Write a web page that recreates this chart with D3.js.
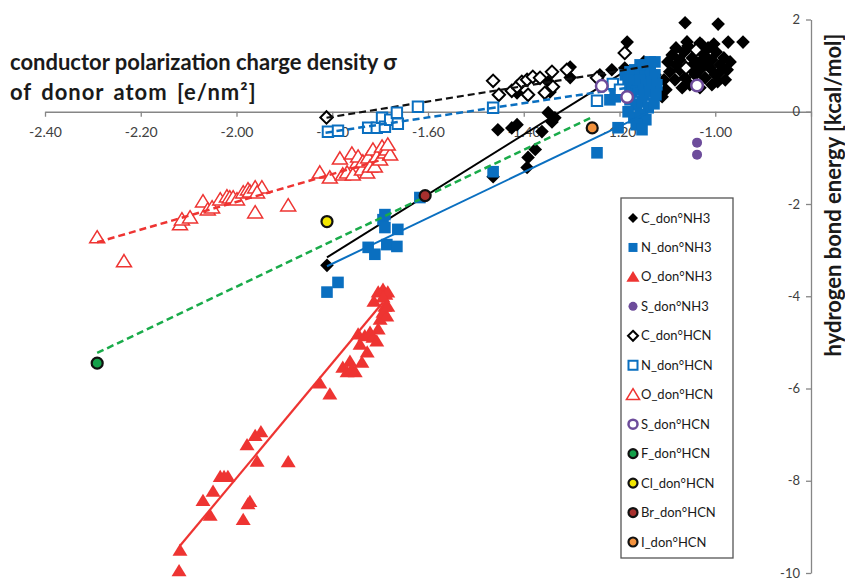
<!DOCTYPE html>
<html><head><meta charset="utf-8">
<script src="https://cdn.jsdelivr.net/npm/d3@7"></script>
<style>body{margin:0;background:#fff}svg{display:block}</style>
</head><body>
<script>
// ---------- data ----------
const xTicks = [-2.4,-2.2,-2.0,-1.8,-1.6,-1.4,-1.2,-1.0,-0.8];
const xTickLabels = ["-2.40","-2.20","-2.00","-1.80","-1.60","-1.40","-1.20","-1.00",""];
const yTicks = [2,0,-2,-4,-6,-8,-10];
const yTickLabels = ["2","0","-2","-4","-6","-8","-10"];
const legendLabels = ["C_don°NH3","N_don°NH3","O_don°NH3","S_don°NH3","C_don°HCN","N_don°HCN","O_don°HCN","S_don°HCN","F_don°HCN","Cl_don°HCN","Br_don°HCN","I_don°HCN"];

const C_NH3 = [[-1.811,-3.33],[-1.464,-1.41],[-1.454,-0.39],[-1.425,-0.35],[-1.414,-0.28],[-1.393,-1.21],[-1.391,-0.99],[-1.376,-0.82],[-1.362,-0.43],[-1.349,-0.02],[-1.341,-0.22],[-1.335,-0.13],[-1.414,0.41],[-1.345,0.43],[-1.349,0.65],[-1.303,0.74],[-1.303,0.97],[-1.241,0.80],[-1.216,0.91],[-1.189,0.95],[-1.184,1.51],
 [-1.099,1.081],[-1.090,1.232],[-1.082,1.384],[-1.074,1.124],[-1.065,1.297],[-1.057,1.427],[-1.048,1.168],[-1.040,1.341],[-1.032,1.081],[-1.023,1.232],[-1.015,1.384],[-1.007,1.124],[-0.998,1.297],[-0.990,1.016],[-0.982,1.168],
 [-1.095,0.865],[-1.084,0.692],[-1.074,0.908],[-1.063,0.735],[-1.053,0.951],[-1.042,0.800],[-1.032,0.908],[-1.021,0.735],[-1.011,0.951],[-1.000,0.800],[-0.990,0.865],[-0.979,0.692],[-1.069,0.519],[-1.053,0.584],[-1.032,0.519],[-1.007,0.584],[-0.995,0.649],[-1.082,1.016],[-1.044,1.038],[-1.019,1.038],[-1.028,1.449],[-1.003,1.470],[-1.059,1.514],[-1.032,1.492],[-0.975,0.908],[-0.969,1.081],[-1.107,0.692],[-1.119,0.649],[-1.140,0.908],[-1.126,0.800],[-1.157,0.951],[-1.165,0.843],[-1.149,1.081],[-1.111,0.324],[-1.103,0.476],
 [-1.063,1.93],[-0.994,1.90],[-0.973,1.51],[-0.942,1.51]];
const N_NH3 = [[-1.811,-3.91],[-1.788,-3.70],[-1.725,-2.94],[-1.711,-3.09],[-1.694,-2.34],[-1.690,-2.51],[-1.686,-2.88],[-1.663,-2.55],[-1.665,-2.92],[-1.690,-2.23],[-1.617,-1.86],[-1.464,-1.30],[-1.247,-0.89],
 [-1.188,0.800],[-1.178,0.865],[-1.168,0.908],[-1.157,0.865],[-1.147,0.800],[-1.136,0.865],[-1.126,0.800],[-1.182,0.692],[-1.170,0.649],[-1.157,0.692],[-1.145,0.584],[-1.132,0.649],[-1.122,0.584],[-1.188,0.476],[-1.174,0.432],[-1.161,0.476],[-1.149,0.368],[-1.136,0.432],[-1.124,0.368],[-1.178,0.259],[-1.165,0.151],[-1.153,0.216],[-1.140,0.086],[-1.128,0.173],[-1.182,0.0],[-1.170,-0.130],[-1.157,-0.065],[-1.145,-0.173],[-1.165,-0.281],[-1.153,-0.389],[-1.220,0.259],[-1.209,0.324],[-1.203,-0.346],[-1.157,1.016],[-1.136,1.081],[-1.126,1.081]];
const O_NH3 = [[-2.118,-9.51],[-2.120,-9.95],[-2.070,-8.43],[-2.055,-8.75],[-2.049,-8.23],[-2.034,-7.91],[-2.026,-7.91],[-2.018,-7.91],[-1.986,-8.84],[-1.976,-8.50],[-1.972,-8.45],[-1.978,-7.22],[-1.961,-7.02],[-1.949,-6.94],[-1.957,-7.58],[-1.892,-7.59],[-1.826,-5.88],[-1.805,-6.12],[-1.778,-5.54],[-1.769,-5.64],[-1.763,-5.41],[-1.759,-5.58],[-1.752,-5.64],[-1.746,-4.82],[-1.742,-5.04],[-1.738,-5.43],[-1.732,-4.86],[-1.727,-5.21],[-1.721,-4.78],[-1.715,-4.89],[-1.707,-4.97],[-1.704,-4.71],[-1.700,-4.50],[-1.694,-4.35],[-1.690,-4.22],[-1.686,-4.43],[-1.694,-3.85],[-1.688,-3.96],[-1.684,-4.22],[-1.713,-4.11],[-1.684,-3.91],[-1.704,-3.91],[-1.694,-4.02]];
const S_NH3 = [[-1.038,-0.67],[-1.038,-0.93]];
const C_HCN = [[-1.812,-0.123],[-1.464,0.670],[-1.452,0.368],[-1.425,0.454],[-1.414,0.541],[-1.404,0.649],[-1.393,0.692],[-1.391,0.368],[-1.381,0.757],[-1.366,0.735],[-1.356,0.411],[-1.341,0.865],[-1.339,0.541],[-1.310,0.908],[-1.247,0.735],[-1.189,1.276],[-1.040,1.34],[-1.061,0.95]];
const N_HCN = [[-1.809,-0.432],[-1.788,-0.411],[-1.725,-0.346],[-1.707,-0.346],[-1.696,-0.130],[-1.690,-0.324],[-1.679,-0.173],[-1.665,-0.022],[-1.663,-0.259],[-1.621,0.108],[-1.464,0.086],[-1.247,0.238],[-1.214,0.605],[-1.199,0.476]];
const O_HCN = [[-2.291,-2.724],[-2.235,-3.243],[-2.118,-2.443],[-2.114,-2.335],[-2.097,-2.292],[-2.070,-1.946],[-2.060,-2.119],[-2.051,-2.076],[-2.034,-1.903],[-2.020,-1.838],[-2.014,-1.859],[-2.007,-1.859],[-1.999,-1.903],[-1.986,-1.751],[-1.976,-1.686],[-1.972,-1.730],[-1.961,-1.643],[-1.947,-1.643],[-1.957,-1.751],[-1.961,-2.184],[-1.892,-2.032],[-1.826,-1.319],[-1.805,-1.427],[-1.784,-1.016],[-1.778,-1.362],[-1.769,-1.319],[-1.759,-0.908],[-1.757,-1.362],[-1.748,-1.103],[-1.746,-0.973],[-1.738,-1.254],[-1.736,-1.081],[-1.727,-1.319],[-1.725,-0.995],[-1.721,-1.189],[-1.715,-0.822],[-1.711,-1.189],[-1.707,-0.973],[-1.700,-1.038],[-1.696,-0.757],[-1.690,-0.887],[-1.686,-0.822],[-1.679,-0.930],[-1.684,-0.714]];
const S_HCN = [[-1.237,0.56],[-1.184,0.32],[-1.038,0.57]];
const F_HCN = [[-2.291,-5.45]];
const Cl_HCN = [[-1.811,-2.38]];
const Br_HCN = [[-1.606,-1.82]];
const I_HCN = [[-1.257,-0.35]];

// trend lines (end points)
const fitC_NH3 = [[-1.811,-3.157],[-1.157,1.08]];
const fitN_NH3 = [[-1.811,-3.35],[-1.140,-0.02]];
const fitO_NH3 = [[-2.118,-9.41],[-1.694,-4.13]];
const fitC_HCN = [[-1.812,-0.13],[-1.136,0.995]];
const fitN_HCN = [[-1.814,-0.454],[-1.157,0.56]];
const fitO_HCN = [[-2.291,-2.83],[-1.690,-1.02]];
const fitHal = [[-2.291,-5.23],[-1.255,-0.108]];

// ---------- drawing ----------
const W=845,H=581;
const svg=d3.select("body").append("svg").attr("width",W).attr("height",H);
const x=d3.scaleLinear().domain([-2.4,-0.8]).range([45,811]);
const y=d3.scaleLinear().domain([-10,2]).range([573,19.5]);
const FONT="Lato, 'Open Sans', sans-serif";

const diamond={draw(c,r){c.moveTo(0,-r);c.lineTo(r,0);c.lineTo(0,r);c.lineTo(-r,0);c.closePath();}};
const square={draw(c,r){c.rect(-r,-r,2*r,2*r);}};
const triangle={draw(c,r){c.moveTo(0,-r);c.lineTo(r*1.1,r*0.8);c.lineTo(-r*1.1,r*0.8);c.closePath();}};
const circle={draw(c,r){c.moveTo(r,0);c.arc(0,0,r,0,2*Math.PI);}};

const BLACK="#000", BLUE="#0a6fc0", RED="#ee3432", PURPLE="#6d4c9b", GREEN="#14a04a", YELLOW="#f2e600", BROWN="#a8302e", ORANGE="#f3923e";

const series=[
 {data:C_NH3,sym:diamond,r:6.8,fill:BLACK,stroke:"none",sw:0,lr:5},
 {data:N_NH3,sym:square,r:5.8,fill:BLUE,stroke:"none",sw:0,lr:4.5},
 {data:O_NH3,sym:triangle,r:6.8,fill:RED,stroke:"none",sw:0,lr:6},
 {data:S_NH3,sym:circle,r:5,fill:PURPLE,stroke:"none",sw:0,lr:4.5},
 {data:C_HCN,sym:diamond,r:6.2,fill:"#fff",stroke:BLACK,sw:2,lr:5},
 {data:N_HCN,sym:square,r:5.2,fill:"#fff",stroke:BLUE,sw:2,lr:4.5},
 {data:O_HCN,sym:triangle,r:6.8,fill:"#fff",stroke:RED,sw:1.5,lr:6},
 {data:S_HCN,sym:circle,r:5.8,fill:"#fff",stroke:PURPLE,sw:2.5,lr:4.5},
 {data:F_HCN,sym:circle,r:5.5,fill:GREEN,stroke:"#111",sw:2.2,lr:4.5},
 {data:Cl_HCN,sym:circle,r:5.5,fill:YELLOW,stroke:"#111",sw:2.2,lr:4.5},
 {data:Br_HCN,sym:circle,r:5.5,fill:BROWN,stroke:"#111",sw:2.2,lr:4.5},
 {data:I_HCN,sym:circle,r:5.5,fill:ORANGE,stroke:"#111",sw:2.2,lr:4.5}
];
const fits=[
 {data:fitC_NH3,color:BLACK,dash:null,w:2,after:0},
 {data:fitN_NH3,color:BLUE,dash:null,w:2,after:1},
 {data:fitO_NH3,color:RED,dash:null,w:2.2,after:2},
 {data:fitC_HCN,color:"#111",dash:"7,4",w:2.2,after:4},
 {data:fitN_HCN,color:BLUE,dash:"7,4",w:2.5,after:5},
 {data:fitO_HCN,color:RED,dash:"7,4",w:2.5,after:6},
 {data:fitHal,color:"#1aab4a",dash:"7,4",w:2.5,after:8}
];

// axes
const AX="#868686", TXT="#404040";
const gx=svg.append("g").attr("transform",`translate(0,${y(0)})`)
 .call(d3.axisBottom(x).tickValues(xTicks).tickFormat((d,i)=>xTickLabels[i]).tickSize(5).tickSizeOuter(0).tickPadding(10));
gx.select(".domain").attr("stroke",AX).attr("stroke-width",1.3);
gx.selectAll(".tick line").attr("stroke",AX).attr("stroke-width",1.3);
gx.selectAll(".tick text").attr("fill",TXT).style("font-family",FONT).style("font-size","14px");

const gy=svg.append("g").attr("transform",`translate(${x(-0.8)},0)`)
 .call(d3.axisLeft(y).tickValues(yTicks).tickFormat((d,i)=>yTickLabels[i]).tickSize(5).tickSizeOuter(0).tickPadding(6));
gy.select(".domain").attr("stroke",AX).attr("stroke-width",1.3);
gy.selectAll(".tick line").attr("stroke",AX).attr("stroke-width",1.3);
gy.selectAll(".tick text").attr("fill",TXT).style("font-family",FONT).style("font-size","13px");

// series + trend lines
const line=d3.line().x(d=>x(d[0])).y(d=>y(d[1]));
const plot=svg.append("g");
series.forEach((s,i)=>{
  const sym=d3.symbol().type(s.sym).size(s.r);
  plot.append("g").selectAll("path").data(s.data).join("path")
   .attr("transform",d=>`translate(${x(d[0])},${y(d[1])})`)
   .attr("d",sym).attr("fill",s.fill).attr("stroke",s.stroke).attr("stroke-width",s.sw);
  fits.filter(f=>f.after===i).forEach(f=>{
    plot.append("path").datum(f.data).attr("d",line).attr("fill","none")
     .attr("stroke",f.color).attr("stroke-width",f.w).attr("stroke-dasharray",f.dash);
  });
});

// titles
const t=svg.append("g").style("font-family",FONT).style("font-weight","bold").attr("fill","#1a1a1a");
t.append("text").attr("x",10).attr("y",70).style("font-size","22px").text("conductor polarization charge density σ");
t.append("text").attr("x",10).attr("y",100).style("font-size","22px").style("letter-spacing","1px").style("word-spacing","3px").text("of donor atom [e/nm²]");
t.append("text").attr("transform","translate(841,195) rotate(-90)").attr("text-anchor","middle").style("font-size","22px").text("hydrogen bond energy [kcal/mol]");

// legend
const lg=svg.append("g");
lg.append("rect").attr("x",621).attr("y",198).attr("width",112).attr("height",360).attr("fill","#fff").attr("stroke","#555").attr("stroke-width",1.3);
const ly=d3.scalePoint().domain(d3.range(legendLabels.length)).range([218,542]);
series.forEach((s,i)=>{
  const sym=d3.symbol().type(s.sym).size(s.lr);
  lg.append("path").attr("transform",`translate(633,${ly(i)})`).attr("d",sym)
   .attr("fill",s.fill).attr("stroke",s.stroke).attr("stroke-width",s.sw);
  lg.append("text").attr("x",641).attr("y",ly(i)).attr("dy","0.35em").attr("fill","#1a1a1a")
   .style("font-family",FONT).style("font-size","13px").text(legendLabels[i]);
});
</script>
</body></html>
